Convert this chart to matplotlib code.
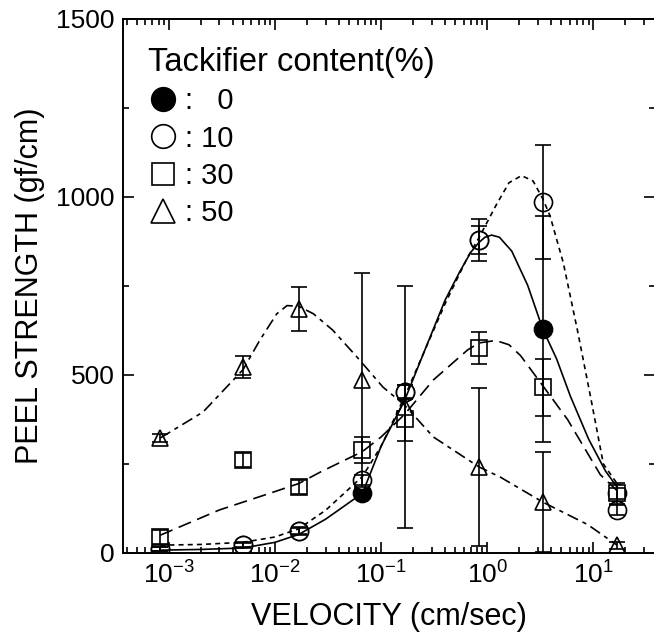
import matplotlib
matplotlib.use("Agg")
import matplotlib.pyplot as plt
from matplotlib.lines import Line2D
from matplotlib.ticker import LogLocator, MultipleLocator, NullFormatter

plt.rcParams['font.family'] = ['Liberation Sans', 'DejaVu Sans']
plt.rcParams['mathtext.fontset'] = 'custom'
plt.rcParams['mathtext.rm'] = 'Liberation Sans'

# velocities of the measurements (cm/sec)
velocity = [8.3e-4, 5.0e-3, 1.67e-2, 6.67e-2, 0.167, 0.833, 3.33, 16.7]

# peel strength (gf/cm) and error for each tackifier content
peel_0 = [12, 22, 62, 168, 452, 879, 629, 168]
err_0 = [5, 5, 8, 10, 20, 40, 318, 15]
peel_10 = [12, 22, 62, 205, 452, 879, 986, 121]
err_10 = [5, 8, 12, 15, 20, 58, 160, 15]
peel_30 = [45, 261, 185, 289, 376, 576, 466, 168]
err_30 = [20, 20, 20, 37, 60, 44, 80, 30]
peel_50 = [323, 522, 685, 486, 410, 242, 143, 22]
err_50 = [10, 30, 62, 300, 340, 222, 140, 10]

# fitted curves
curve_0_x = [8.3e-4, 2e-3, 5e-3, 1e-2, 1.67e-2, 3e-2, 6.67e-2, 0.1, 0.167, 0.25,
             0.4, 0.55, 0.7, 0.833, 0.95, 1.1, 1.3, 1.7, 2.4, 3.33, 4.5, 6.07, 9.0,
             13.0, 16.7]
curve_0_y = [8, 10, 14, 30, 52, 95, 168, 300, 430, 560,
             710, 790, 845, 872, 887, 893, 887, 848, 752, 629, 545, 440, 320,
             230, 185]
curve_10_x = [8.3e-4, 2e-3, 5e-3, 1e-2, 1.67e-2, 3e-2, 6.67e-2, 0.1, 0.167, 0.25,
              0.4, 0.65, 0.833, 1.2, 1.6, 2.1, 2.7, 3.33, 3.9, 5.2, 7.06, 9.4,
              12.4, 16.7]
curve_10_y = [22, 24, 30, 45, 68, 120, 215, 300, 440, 560,
              700, 830, 885, 975, 1040, 1060, 1045, 995, 947, 815, 626, 438,
              250, 195]
curve_30_x = [8.3e-4, 3e-3, 9e-3, 1.67e-2, 2.7e-2, 6.67e-2, 0.1, 0.167, 0.31,
              0.65, 0.833, 1.2, 1.6, 2.05, 3.33, 5.7, 11.6, 16.7]
curve_30_y = [50, 121, 168, 195, 228, 285, 326, 390, 486,
              570, 590, 597, 585, 555, 470, 375, 220, 175]
curve_50_x = [8.3e-4, 2.1e-3, 5e-3, 7.2e-3, 1.04e-2, 1.3e-2, 1.67e-2, 2.3e-2, 3.5e-2,
              5.9e-2, 0.104, 0.167, 0.31, 0.833, 1.33, 3.33, 8.8, 16.7]
curve_50_y = [323, 396, 515, 598, 672, 695, 693, 672, 626,
              551, 466, 415, 326, 242, 213, 143, 80, 22]

fig = plt.figure(figsize=(6.54, 6.42), dpi=100)
ax = fig.add_axes([123 / 654, 89 / 642, 532 / 654, 534 / 642])

lw = 1.2
mk = dict(linestyle='none', mec='black', mew=lw)
# markers first, open ones white-filled on top of the filled ones
ax.plot(velocity, peel_0, marker='o', ms=13, mfc='black', zorder=2, **mk)
ax.plot(velocity, peel_10, marker='o', ms=13, mfc='white', zorder=2.1, **mk)
ax.plot(velocity, peel_30, marker='s', ms=11, mfc='white', zorder=2.2, **mk)
ax.plot(velocity, peel_50, marker='^', ms=12, mfc='white', zorder=2.3, **mk)

ax.plot(curve_0_x, curve_0_y, color='black', lw=lw, linestyle='-', zorder=3)
ax.plot(curve_10_x, curve_10_y, color='black', lw=lw, linestyle=(0, (3, 2.5)), zorder=3)
ax.plot(curve_30_x, curve_30_y, color='black', lw=lw, linestyle=(0, (8, 4)), zorder=3)
ax.plot(curve_50_x, curve_50_y, color='black', lw=lw, linestyle=(0, (7, 3, 2.5, 3)), zorder=3)

eb = dict(fmt='none', ecolor='black', elinewidth=lw, capsize=5.5, capthick=lw, zorder=3)
for vals, errs in [(peel_0, err_0), (peel_10, err_10), (peel_30, err_30), (peel_50, err_50)]:
    ax.errorbar(velocity, vals, yerr=errs, **eb)

ax.set_xscale('log')
ax.set_xlim(3.7e-4, 38)
ax.set_ylim(0, 1500)
ax.xaxis.set_major_locator(LogLocator(base=10, numticks=10))
ax.xaxis.set_minor_locator(LogLocator(base=10, subs=range(2, 10), numticks=10))
ax.xaxis.set_minor_formatter(NullFormatter())
ax.yaxis.set_major_locator(MultipleLocator(500))
ax.yaxis.set_minor_locator(MultipleLocator(250))

ax.tick_params(which='both', direction='in', top=True, right=True,
               labelsize=19, width=1.2, pad=6)
ax.tick_params(which='major', length=8)
ax.tick_params(which='minor', length=4)
for s in ax.spines.values():
    s.set_linewidth(1.4)

ax.set_xlabel('VELOCITY (cm/sec)', fontsize=22, labelpad=10)
ax.set_ylabel('PEEL STRENGTH (gf/cm)', fontsize=22, labelpad=8)

handles = [
    Line2D([], [], marker='o', linestyle='none', ms=17, mfc='black', mec='black', mew=lw),
    Line2D([], [], marker='o', linestyle='none', ms=17, mfc='none', mec='black', mew=lw),
    Line2D([], [], marker='s', linestyle='none', ms=16, mfc='none', mec='black', mew=lw),
    Line2D([], [], marker='^', linestyle='none', ms=17, mfc='none', mec='black', mew=lw),
]
labels = [':   0', ': 10', ': 30', ': 50']
ax.legend(handles, labels, title='Tackifier content(%)', loc='upper left',
          bbox_to_anchor=(0.02, 0.975), frameon=False, fontsize=21,
          title_fontsize=23.5, alignment='left', handlelength=1.0,
          handletextpad=0.25, labelspacing=0.32, borderpad=0.3,
          borderaxespad=0.2)

fig.savefig('out.png', dpi=100)
